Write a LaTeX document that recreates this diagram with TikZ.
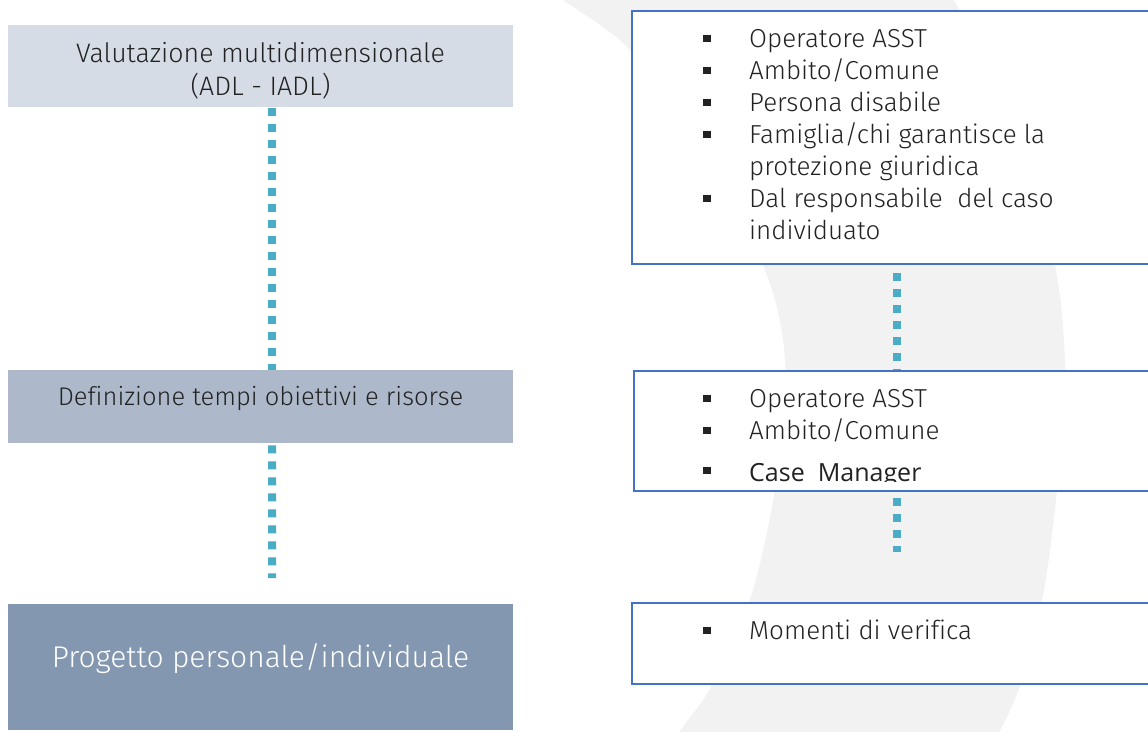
\documentclass[tikz,border=0pt]{standalone}
\usepackage{fontspec}
\setmainfont{Fira Sans}[UprightFont=* Light, Ligatures=NoCommon]
\newfontfamily\cmfont{Open Sans}
\usetikzlibrary{calc}
\definecolor{boxA}{HTML}{D6DCE5}
\definecolor{boxB}{HTML}{ADB9CA}
\definecolor{boxC}{HTML}{8497B0}
\definecolor{txt}{HTML}{222222}
\definecolor{dotc}{HTML}{4BACC6}
\definecolor{rblue}{HTML}{4472C4}
\definecolor{bgarc}{HTML}{F2F2F2}
\tikzset{
 lbox/.style={draw=none, inner sep=0pt, anchor=north west, minimum width=505pt},
 rbox/.style={draw=rblue, line width=2.2pt, fill=white, inner sep=0pt, anchor=north west, minimum width=529pt},
 dotline/.style={draw=dotc, line width=8pt, dash pattern=on 8pt off 8pt},
 ltext/.style={inner sep=0pt, anchor=base, text=txt},
 rtext/.style={inner sep=0pt, anchor=base west, text=txt},
}
\newcommand{\bul}[1][5pt]{\makebox[46pt][l]{\raisebox{#1}{\rule{7.5pt}{7.5pt}}}}
\begin{document}
\begin{tikzpicture}[x=1pt,y=-1pt]
\clip (0,0) rectangle (1148,731);
\fill[white] (0,0) rectangle (1148,731);
% background crescent
\fill[bgarc] plot[smooth] coordinates {(530,-25) (563,0) (630,50) (700,150) (765,270) (785,360) (778,470) (753,590) (712,685) (680,731) (662,760)}
  -- plot[smooth] coordinates {(985,760) (1000,731) (1020,685) (1044,590) (1058,480) (1065,370) (1055,265) (1015,120) (954,0) (935,-30)} -- cycle;
% left boxes
\node[lbox, fill=boxA, minimum height=82pt] (b1) at (8,25) {};
\node[lbox, fill=boxB, minimum height=73pt] (b2) at (8,370) {};
\node[lbox, fill=boxC, minimum height=126pt] (b3) at (8,604) {};
% right boxes
\node[rbox, minimum height=253pt] (r1) at (631,10) {};
\node[rbox, minimum height=120pt] (r2) at (633,370) {};
\node[rbox, minimum height=81pt] (r3) at (631,602) {};
% connectors
\coordinate (c2) at (272,578);
\coordinate (c4) at (897,552);
\draw[dotline, dash phase=15pt] ($(b1.south)+(11.5,0)$) -- ($(b2.north)+(11.5,0)$);
\draw[dotline, dash phase=14pt] ($(b2.south)+(11.5,0)$) -- (c2);
\draw[dotline, dash phase=8pt] ($(r1.south west)+(266,0)$) -- ($(r2.north west)+(264,0)$);
\draw[dotline, dash phase=10pt] ($(r2.south west)+(264,0)$) -- (c4);
% left texts
\node[ltext, font=\fontsize{26.7}{33}\selectfont] (t1a) at (260.5,62) {Valutazione multidimensionale};
\node[ltext, font=\fontsize{26.7}{33}\selectfont] (t1b) at (260.5,95) {(ADL - IADL)};
\node[ltext, font=\fontsize{25.5}{30}\selectfont] (t2) at (260.5,405) {Definizione tempi obiettivi e risorse};
\node[ltext, text=white, font=\fontsize{30}{34}\selectfont] (t3) at (260.5,667) {Progetto personale/individuale};
% right texts
\node[rtext] (t4) at (703,47) {\parbox[t]{440pt}{\raggedright\fontsize{26}{32}\selectfont
 \bul Operatore ASST\\
 \bul Ambito/Comune\\
 \bul Persona disabile\\
 \bul Famiglia/chi garantisce la\\
 \hspace*{46pt}protezione giuridica\\
 \bul Dal responsabile\ \ del caso\\
 \hspace*{46pt}individuato}};
\node[rtext] (t5) at (703,407) {\parbox[t]{440pt}{\raggedright\fontsize{26}{32}\selectfont
 \bul Operatore ASST\\
 \bul Ambito/Comune}};
\begin{scope}
\clip (633,370) rectangle (1160,481);
\node[rtext] (t5b) at (703,481) {\bul[7pt]{\cmfont\fontsize{25}{30}\selectfont Case\ \ Manager}};
\end{scope}
\node[rtext] (t6) at (703,639) {\fontsize{26}{32}\selectfont\bul Momenti di verifica};
\end{tikzpicture}
\end{document}
